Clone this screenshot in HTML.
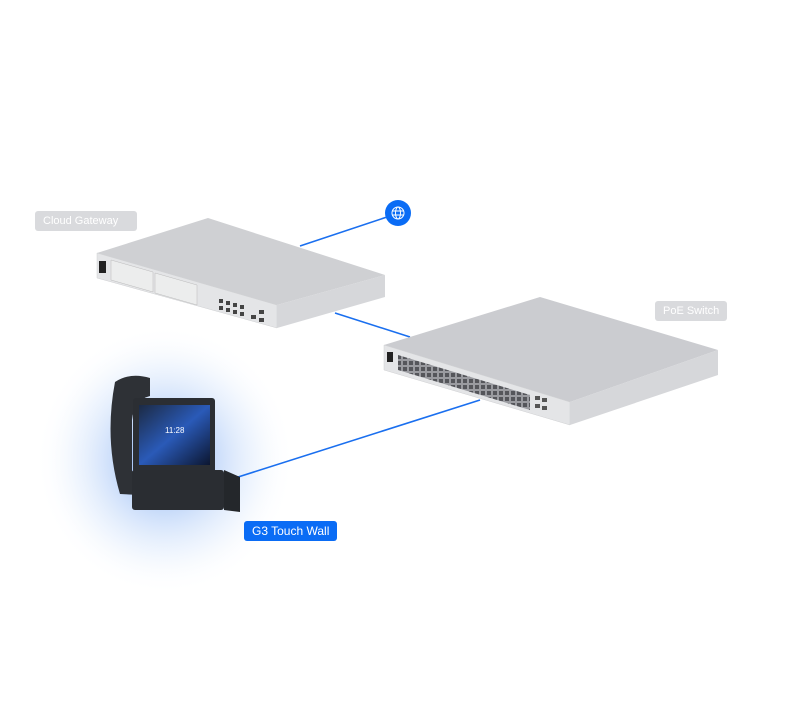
<!DOCTYPE html>
<html><head><style>
html,body{margin:0;padding:0;background:#fff;}
.l{position:absolute;font-family:"Liberation Sans",sans-serif;font-size:11px;color:#fff;border-radius:3px;line-height:20px;padding:0 8px;}
</style></head><body>
<div style="position:relative;width:800px;height:726px;overflow:hidden;">
<svg width="800" height="726" viewBox="0 0 800 726" style="position:absolute;left:0;top:0">
<defs>
<radialGradient id="g" cx="50%" cy="50%" r="50%">
<stop offset="0" stop-color="#3d7cf0" stop-opacity="0.75"/>
<stop offset="0.35" stop-color="#7aa9f3" stop-opacity="0.45"/>
<stop offset="0.7" stop-color="#c5dbfa" stop-opacity="0.25"/>
<stop offset="1" stop-color="#ffffff" stop-opacity="0"/>
</radialGradient>
<linearGradient id="scr" x1="0" y1="0" x2="1" y2="1">
<stop offset="0" stop-color="#1c2a44"/><stop offset="0.5" stop-color="#2a5ab8"/><stop offset="1" stop-color="#0c1630"/>
</linearGradient>
<pattern id="ports" width="6" height="6" patternUnits="userSpaceOnUse"><rect width="6" height="6" fill="#9a9ba0"/><rect x="1" y="1" width="4" height="4" fill="#55565b"/></pattern>
</defs>
<ellipse cx="165" cy="460" rx="130" ry="135" fill="url(#g)"/>
<g stroke="#1a6fef" stroke-width="1.6">
<line x1="300" y1="246" x2="390" y2="216"/>
<line x1="335" y1="313" x2="410" y2="337"/>
<line x1="480" y1="400" x2="235" y2="478"/>
</g>
<!-- gateway -->
<polygon points="97,253 208,218 385,275 277,305" fill="#cfd0d3"/>
<polygon points="97,253 277,305 277,328 97,278" fill="#e4e5e7" stroke="#cfd0d2" stroke-width="0.5"/>
<polygon points="277,305 385,275 385,297 277,328" fill="#d6d7da"/>
<rect x="99" y="261" width="7" height="12" fill="#222"/>
<polygon points="111,260 153,272 153,292 111,280" fill="#eceded" stroke="#bbb" stroke-width="0.5"/>
<polygon points="155,273 197,285 197,305 155,293" fill="#eceded" stroke="#bbb" stroke-width="0.5"/>
<g fill="#444">
<rect x="219" y="299" width="4" height="4"/><rect x="226" y="301" width="4" height="4"/><rect x="233" y="303" width="4" height="4"/><rect x="240" y="305" width="4" height="4"/>
<rect x="219" y="306" width="4" height="4"/><rect x="226" y="308" width="4" height="4"/><rect x="233" y="310" width="4" height="4"/><rect x="240" y="312" width="4" height="4"/>
<rect x="251" y="315" width="5" height="4"/><rect x="259" y="310" width="5" height="4"/><rect x="259" y="318" width="5" height="4"/>
</g>
<circle cx="398" cy="213" r="13" fill="#0a6cf5"/>
<g stroke="#fff" stroke-width="1" fill="none"><circle cx="398" cy="213" r="6"/><ellipse cx="398" cy="213" rx="2.5" ry="6"/><line x1="392" y1="211" x2="404" y2="211"/><line x1="392" y1="215" x2="404" y2="215"/></g>
<!-- switch -->
<polygon points="384,345 540,297 718,350 570,402" fill="#cbccd0"/>
<polygon points="384,345 570,402 570,425 384,370" fill="#e4e5e7" stroke="#cfd0d2" stroke-width="0.5"/>
<polygon points="570,402 718,350 718,375 570,425" fill="#d6d7da"/>
<rect x="387" y="352" width="6" height="10" fill="#222"/>
<polygon points="398,355 530,395 530,410 398,370" fill="url(#ports)"/>
<g fill="#555"><rect x="535" y="396" width="5" height="4"/><rect x="542" y="398" width="5" height="4"/><rect x="535" y="404" width="5" height="4"/><rect x="542" y="406" width="5" height="4"/></g>
<!-- touch wall -->
<path d="M115,382 Q130,372 150,378 L150,396 Q134,400 132,420 L132,470 L140,495 L120,494 Q104,440 115,382 Z" fill="#2e3136"/>
<rect x="133" y="398" width="82" height="75" rx="3" fill="#2b2e33"/>
<rect x="139" y="405" width="71" height="60" fill="url(#scr)"/>
<text x="165" y="433" font-family="Liberation Sans,sans-serif" font-size="8" fill="#fff">11:28</text>
<rect x="132" y="470" width="92" height="40" rx="3" fill="#2a2d32"/>
<polygon points="224,470 240,477 240,512 224,510" fill="#24272b"/>
</svg>
<div class="l" style="left:35px;top:211px;background:#d9dadd;width:86px;">Cloud Gateway</div>
<div class="l" style="left:655px;top:301px;background:#d9dadd;">PoE Switch</div>
<div class="l" style="left:244px;top:521px;background:#0a6cf5;font-size:12px;">G3 Touch Wall</div>
</div>
</body></html>
